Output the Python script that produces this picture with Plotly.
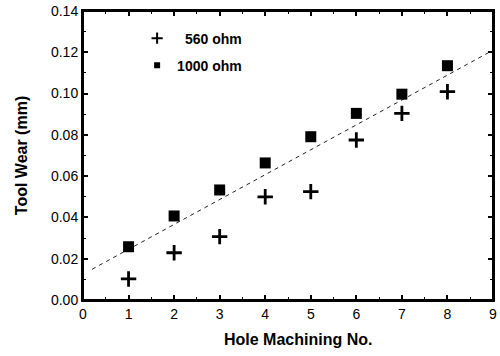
import plotly.graph_objects as go

holes = [1, 2, 3, 4, 5, 6, 7, 8]
wear_560 = [0.0102, 0.0229, 0.0307, 0.0500, 0.0525, 0.0775, 0.0904, 0.1009]
wear_1000 = [0.0258, 0.0407, 0.0533, 0.0664, 0.0791, 0.0904, 0.0997, 0.1135]
fit_x = [0.2, 9.0]
fit_y = [0.0149, 0.1210]
series_names = ["\u00a0\u00a0560 ohm", "1000 ohm"]

font = "Liberation Sans, Arial, sans-serif"

fig = go.Figure()
fig.add_trace(go.Scatter(
    x=fit_x, y=fit_y, mode="lines", showlegend=False,
    line=dict(color="#222", width=1, dash="4px,4px"), hoverinfo="skip"))
fig.add_trace(go.Scatter(
    x=holes, y=wear_560, mode="markers", name=series_names[0], showlegend=False,
    marker=dict(symbol="cross-thin", size=11, color="black",
                line=dict(color="black", width=2.8))))
fig.add_trace(go.Scatter(
    x=holes, y=wear_1000, mode="markers", name=series_names[1], showlegend=False,
    marker=dict(symbol="square", size=11, color="black")))
# legend entries (smaller symbols, as in the reference)
fig.add_trace(go.Scatter(
    x=[None], y=[None], mode="markers", name=series_names[0], legendgroup="a",
    marker=dict(symbol="cross-thin", size=8, color="black",
                line=dict(color="black", width=2))))
fig.add_trace(go.Scatter(
    x=[None], y=[None], mode="markers", name=series_names[1], legendgroup="b",
    marker=dict(symbol="square", size=6, color="black")))

axis_common = dict(
    showline=True, linecolor="black", linewidth=2, mirror="allticks",
    ticks="inside", ticklen=5, tickwidth=1.5, tickcolor="black",
    showgrid=False, zeroline=False, automargin=False,
    tickfont=dict(family=font, size=14, color="black"),
)

fig.update_xaxes(
    range=[0, 9], tickmode="linear", tick0=0, dtick=1,
    minor=dict(ticks="inside", ticklen=3, tickwidth=1, tickcolor="black", dtick=0.5, tick0=0),
    **axis_common)
fig.update_yaxes(
    range=[0, 0.14], tickmode="linear", tick0=0, dtick=0.02, tickformat=".2f",
    minor=dict(ticks="inside", ticklen=3, tickwidth=1, tickcolor="black", dtick=0.01, tick0=0),
    title=dict(text="<b>Tool Wear (mm)</b>", font=dict(family=font, size=16, color="black"), standoff=19),
    **axis_common)

fig.add_annotation(text="<b>Hole Machining No.</b>", xref="paper", yref="paper",
                   x=0.524, y=-0.135, xanchor="center", yanchor="middle", showarrow=False,
                   font=dict(family=font, size=16, color="black"))

fig.add_shape(type="rect", xref="paper", yref="paper", x0=0, y0=0, x1=1, y1=1,
              line=dict(color="black", width=2), fillcolor="rgba(0,0,0,0)", layer="above")

fig.update_layout(
    width=500, height=356,
    margin=dict(l=83, r=7, t=11, b=56),
    paper_bgcolor="white", plot_bgcolor="white",
    font=dict(family=font, color="black"),
    legend=dict(x=0.132, y=0.96, xanchor="left", yanchor="top",
                bgcolor="rgba(0,0,0,0)", borderwidth=0,
                font=dict(family=font, size=14, color="black", weight="bold"),
                itemsizing="trace", tracegroupgap=6),
)

fig.write_html("out.html", config={"displayModeBar": False},
               post_script="document.body.style.margin='0';document.body.style.overflow='hidden';")
